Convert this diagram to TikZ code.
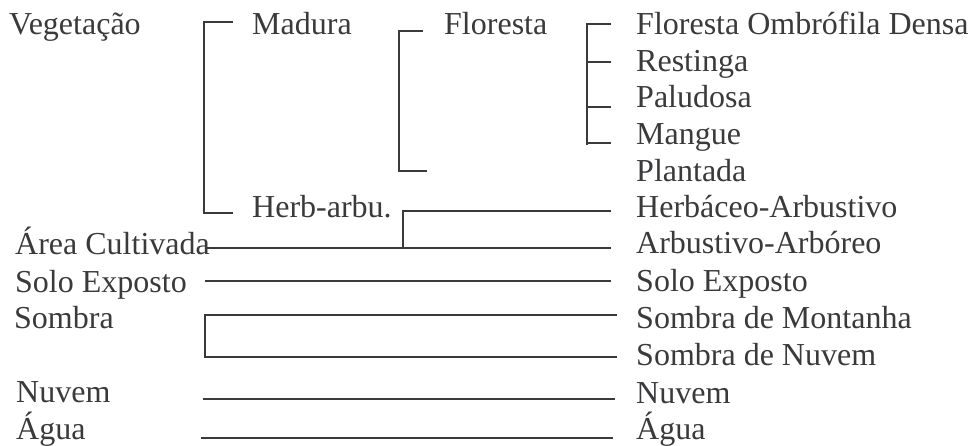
\documentclass[tikz,border=0pt]{standalone}
\usepackage{fontspec}
\setmainfont{Liberation Serif}
\definecolor{ink}{RGB}{58,58,60}
\tikzset{
  lbl/.style={anchor=base west, inner sep=0pt, text=ink},
  lnk/.style={draw=ink, line width=1.7pt},
}
\begin{document}
\begin{tikzpicture}[x=1pt, y=-1pt, font=\fontsize{32}{38}\selectfont, line join=miter]
	\useasboundingbox (0,0) rectangle (974,446);
	% left column
	\node[lbl] (veg) at (9,35) {Vegetação};
	\node[lbl] (area) at (15,255) {Área Cultivada};
	\node[lbl] (soloL) at (15,292) {Solo Exposto};
	\node[lbl] (sombL) at (14,328) {Sombra};
	\node[lbl] (nuvL) at (16,402) {Nuvem};
	\node[lbl] (aguaL) at (16,439) {Água};
	% middle levels
	\node[lbl] (mad) at (252,35) {Madura};
	\node[lbl] (herb) at (252,218) {Herb-arbu.};
	\node[lbl] (flo) at (444,35) {Floresta};
	% right column
	\foreach \n/\t/\y in {fod/Floresta Ombrófila Densa/35, res/Restinga/72, pal/Paludosa/108,
		man/Mangue/145, pla/Plantada/182, hea/Herbáceo-Arbustivo/218, aa/Arbustivo-Arbóreo/254,
		soloR/Solo Exposto/291, smon/Sombra de Montanha/328, snuv/Sombra de Nuvem/365,
		nuvR/Nuvem/403, aguaR/Água/439}
		\node[lbl] (\n) at (636,\y) {\t};
	% bracket end points
	\coordinate (madA) at (233,22);   \coordinate (herbA) at (233,213);
	\coordinate (floA) at (423,31);   \coordinate (plaA) at (427,171);
	\coordinate (fodA) at (611,24);   \coordinate (manB) at (587,145);
	\coordinate (heaA) at (611,211);  \coordinate (herbB) at (403,248);
	\coordinate (areaA) at (205,248); \coordinate (aaA) at (611,248);
	\coordinate (soloA) at (205,281); \coordinate (soloB) at (611,281);
	\coordinate (smonA) at (617,315); \coordinate (snuvA) at (617,357);
	\coordinate (nuvA) at (203,399);  \coordinate (nuvB) at (615,399);
	\coordinate (aguaA) at (201,438); \coordinate (aguaB) at (613,438);
	% brackets
	\draw[lnk] (madA) -- ++(-29,0) |- (herbA);
	\draw[lnk] (floA) -- ++(-24,0) |- (plaA);
	\draw[lnk] (fodA) -| (manB);
	\foreach \y in {62,107,143} \draw[lnk] (587,\y) -- (611,\y);
	\draw[lnk] (heaA) -| (herbB);
	\draw[lnk] (areaA) -- (aaA);
	\draw[lnk] (soloA) -- (soloB);
	\draw[lnk] (smonA) -- ++(-412,0) |- (snuvA);
	\draw[lnk] (nuvA) -- (nuvB);
	\draw[lnk] (aguaA) -- (aguaB);
\end{tikzpicture}
\end{document}
